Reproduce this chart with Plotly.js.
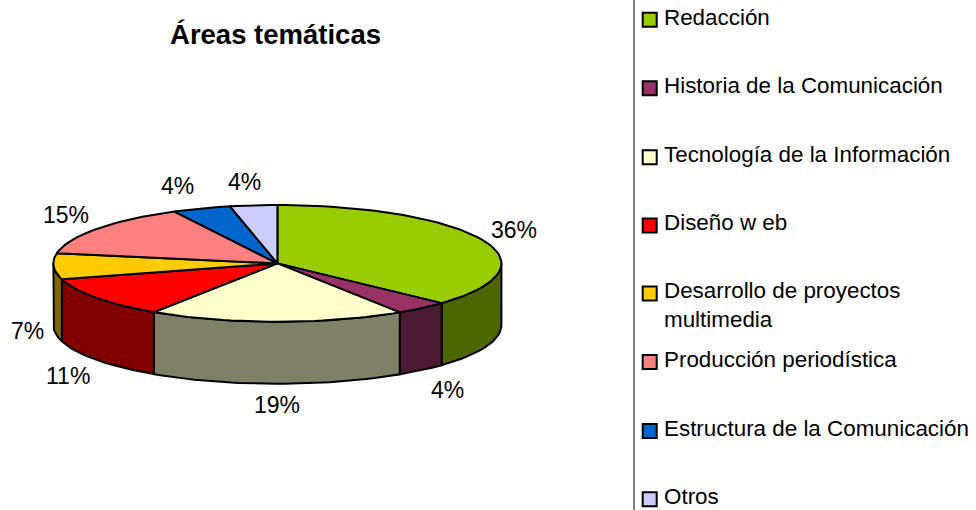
<!DOCTYPE html>
<html>
<head>
<meta charset="utf-8">
<script src="https://cdn.plot.ly/plotly-3.0.1.min.js"></script>
<style>html,body{margin:0;padding:0;background:#fff;overflow:hidden}#chart{width:976px;height:510px}</style>
</head>
<body>
<div id="chart"></div>
<script>
// Data
const categories = ["Redacción","Historia de la Comunicación","Tecnología de la Información","Diseño w eb","Desarrollo de proyectos<br>multimedia","Producción periodística","Estructura de la Comunicación","Otros"];
// Slice sizes as measured on the drawn pie (%)
const shares = [36.9, 3.9, 18.5, 11.3, 7.2, 14.6, 4.2, 3.4];
// Percentages as printed beside the slices
const printedLabels = ["36%","4%","19%","11%","7%","15%","4%","4%"];
const topColors = ["#99CC00","#993366","#FFFFCC","#FF0000","#FFCC00","#FF8080","#0066CC","#CCCCFF"];
const sideColors = ["#4D6600","#4D1A33","#808066","#800000","#806600","#804040","#003366","#666680"];

// Layout constants (pixel-scaled hidden axes)
const pie = {cx:277.4, cy:263.4, rx:224, ry:58.4, depth:62};
const labelAt = [[514,229.5],[447,389.5],[277,404.5],[68,375.5],[27,330.5],[66,214.5],[177,185.5],[244,181.5]];
const legendRowY = [17.5,85.5,154.5,222.5,305,359.5,428.5,496.5];
const swatchY = [19.7,88.3,157.3,225.5,293.5,362,431,499.3];
const OUTLINE = "#000000", LW = 2;

const rad = d => d*Math.PI/180;
const px = t => pie.cx + pie.rx*Math.sin(rad(t));
const py = t => pie.cy - pie.ry*Math.cos(rad(t));
function arc(a,b){ const xs=[],ys=[],n=Math.max(2,Math.ceil(Math.abs(b-a)/2));
  for(let i=0;i<=n;i++){const t=a+(b-a)*i/n; xs.push(px(t)); ys.push(py(t));} return [xs,ys]; }

const traces=[];
let start=0; const spans=shares.map(v=>{const s=[start,start+v*3.6]; start+=v*3.6; return s;});

// Outer wall: only the part of each slice facing the viewer (90° to 270°)
spans.forEach((s,i)=>{
  const a=Math.max(s[0],90), b=Math.min(s[1],270);
  if(b<=a) return;
  const [xs,ys]=arc(a,b);
  const bx=xs.slice().reverse(), by=ys.slice().reverse().map(y=>y+pie.depth);
  traces.push({type:"scatter",mode:"lines",fill:"toself",fillcolor:sideColors[i],
    x:xs.concat(bx,[xs[0]]),y:ys.concat(by,[ys[0]]),
    line:{color:OUTLINE,width:LW},hoverinfo:"skip",showlegend:false});
});
// Top face
spans.forEach((s,i)=>{
  const [xs,ys]=arc(s[0],s[1]);
  traces.push({type:"scatter",mode:"lines",fill:"toself",fillcolor:topColors[i],name:categories[i],
    x:[pie.cx].concat(xs,[pie.cx]),y:[pie.cy].concat(ys,[pie.cy]),
    line:{color:OUTLINE,width:LW},hoverinfo:"name",showlegend:false});
});
// Legend swatches
traces.push({type:"scatter",mode:"markers",x:categories.map(()=>649.7),y:swatchY,
  marker:{symbol:"square",size:14,color:topColors,line:{color:OUTLINE,width:2}},
  hoverinfo:"skip",showlegend:false});

const FONT="Liberation Sans, Arial, sans-serif";
const annotations=[];
printedLabels.forEach((t,i)=>annotations.push({x:labelAt[i][0],y:labelAt[i][1],text:t,showarrow:false,
  xanchor:"center",yanchor:"middle",font:{family:FONT,size:23,color:"#000"}}));
categories.forEach((t,i)=>annotations.push({x:662,y:legendRowY[i],text:t,showarrow:false,align:"left",
  xanchor:"left",yanchor:"middle",font:{family:FONT,size:22.4,color:"#000"}}));

const layout={
  width:976,height:510,margin:{l:0,r:0,t:0,b:0},paper_bgcolor:"#fff",plot_bgcolor:"#fff",showlegend:false,
  title:{text:"<b>Áreas temáticas</b>",x:275.5/976,xanchor:"center",y:1-34/510,yanchor:"middle",font:{family:FONT,size:27.5,color:"#000"}},
  xaxis:{range:[0,976],visible:false,fixedrange:true},
  yaxis:{range:[510,0],visible:false,fixedrange:true},
  shapes:[{type:"line",x0:634,x1:634,y0:0,y1:510,line:{color:"#808080",width:2}}],
  annotations
};
Plotly.newPlot("chart",traces,layout,{displayModeBar:false,staticPlot:true});
</script>
</body>
</html>
